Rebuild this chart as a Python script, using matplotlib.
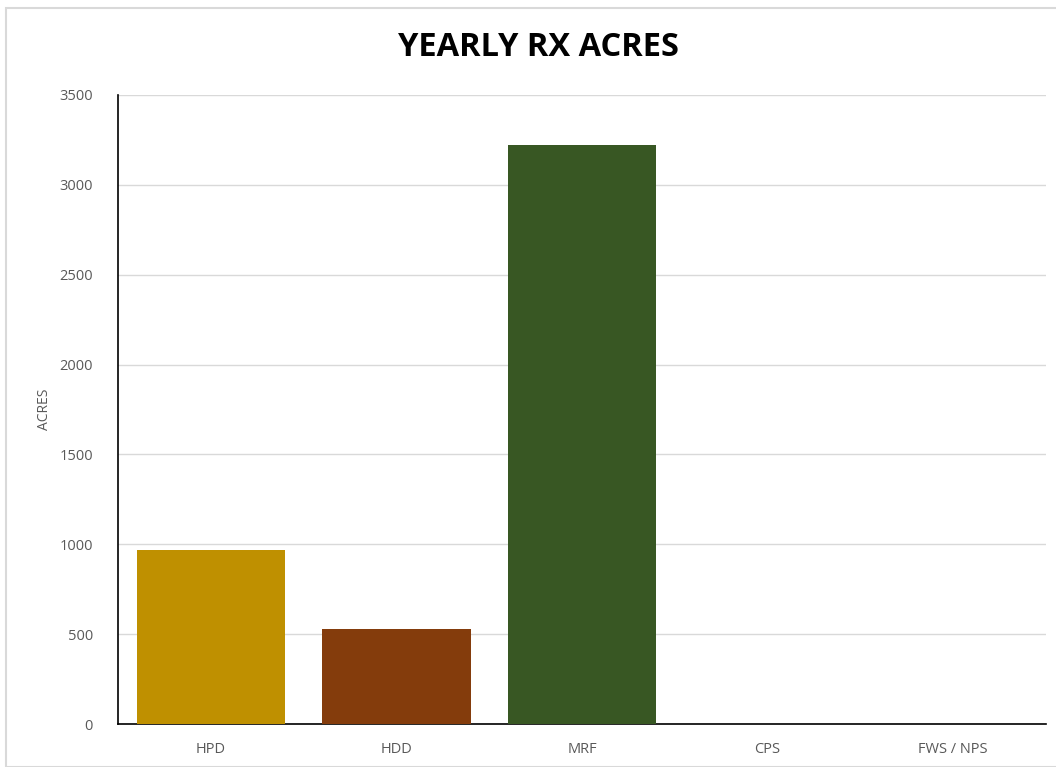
import matplotlib
matplotlib.use("Agg")
import matplotlib.pyplot as plt
from matplotlib.patches import Rectangle

categories = ["HPD", "HDD", "MRF", "CPS", "FWS / NPS"]
acres = [970, 528, 3224, 0, 0]
colors = ["#BF9000", "#843C0C", "#385723", "#4472C4", "#A5A5A5"]
yticks = [0, 500, 1000, 1500, 2000, 2500, 3000, 3500]

plt.rcParams['font.family'] = ['Open Sans', 'DejaVu Sans']

W, H = 1056, 767
fig = plt.figure(figsize=(W/100, H/100), dpi=100)
ax = fig.add_axes([118/W, 1-724/H, (1046-118)/W, (724-95)/H])

x = list(range(len(categories)))
ax.bar(x, acres, width=0.8, color=colors, zorder=3)
ax.set_xlim(-0.5, len(categories)-0.5)
ax.set_ylim(0, 3500)
ax.set_yticks(yticks)
ax.set_xticks(x)
ax.set_xticklabels(categories)
ax.grid(axis='y', color='#d9d9d9', linewidth=1, zorder=0)
ax.tick_params(axis='both', length=0, labelsize=10.5, colors='#595959')
ax.tick_params(axis='y', pad=18)
ax.tick_params(axis='x', pad=13)
for s in ['top', 'right']:
    ax.spines[s].set_visible(False)
for s in ['left', 'bottom']:
    ax.spines[s].set_color('black')
    ax.spines[s].set_linewidth(1.2)
ax.set_ylabel('ACRES', fontsize=10, color='#595959', labelpad=5)

fig.text(538/W, 1-47/H, 'YEARLY RX ACRES', ha='center', va='center',
         fontsize=23.5, fontweight='bold', color='black')

fig.patches.append(Rectangle((6/W, 0), 1.0, 1-8/H, transform=fig.transFigure,
                             fill=False, edgecolor='#d9d9d9', linewidth=1.5))

fig.savefig('out.png', dpi=100)
